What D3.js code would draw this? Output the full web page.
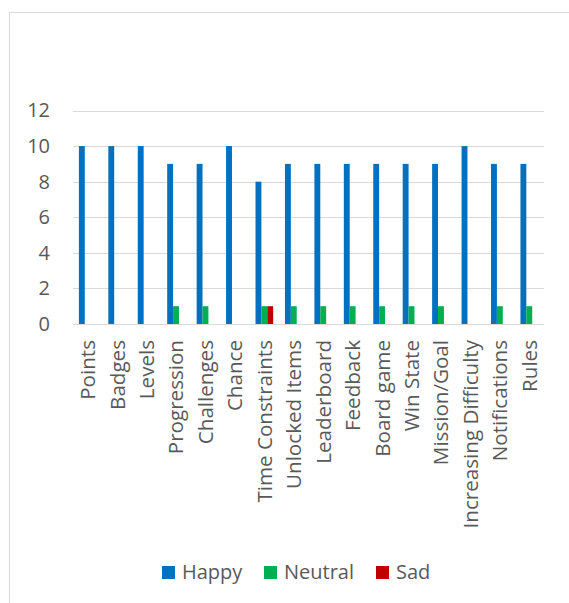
<!DOCTYPE html>
<html><head><meta charset="utf-8">
<script src="https://cdn.jsdelivr.net/npm/d3@7"></script>
<style>body{margin:0;background:#fff;}svg{display:block;}</style>
</head><body>
<svg id="chart" width="569" height="603"></svg>
<script>
const categories = ["Points","Badges","Levels","Progression","Challenges","Chance","Time Constraints","Unlocked Items","Leaderboard","Feedback","Board game","Win State","Mission/Goal","Increasing Difficulty","Notifications","Rules"];
const seriesNames = ["Happy","Neutral","Sad"];
const happy   = [10,10,10,9,9,10,8,9,9,9,9,9,9,10,9,9];
const neutral = [0,0,0,1,1,0,1,1,1,1,1,1,1,0,1,1];
const sad     = [0,0,0,0,0,0,1,0,0,0,0,0,0,0,0,0];
const yTicks  = [0,2,4,6,8,10,12];
const colors  = ["#0070C0","#00B050","#C00000"];

(function(){
const svg = d3.select("#chart");
const font = "'Open Sans', sans-serif";
const txt = "#595959";

// chart area border
svg.append("rect").attr("x",9.5).attr("y",12.5).attr("width",600).attr("height",620)
  .attr("fill","#fff").attr("stroke","#d9d9d9").attr("stroke-width",1);

const pLeft = 73, pRight = 544, pTop = 110.5, pBottom = 324;
const x = d3.scaleBand().domain(categories).range([pLeft,pRight]).padding(0);
const y = d3.scaleLinear().domain([0,12]).range([pBottom,pTop]);

// gridlines
svg.append("g").selectAll("line").data(yTicks.filter(d=>d>0)).join("line")
  .attr("x1",pLeft).attr("x2",pRight).attr("y1",d=>Math.round(y(d))+0.5).attr("y2",d=>Math.round(y(d))+0.5)
  .attr("stroke","#d9d9d9").attr("stroke-width",1.2);

// y axis labels
const yAxis = d3.axisLeft(y).tickValues(yTicks).tickSize(0).tickPadding(0);
const gy = svg.append("g").attr("transform",`translate(50,0)`).call(yAxis);
gy.select(".domain").remove();
gy.selectAll("text").attr("font-family",font).attr("font-size",20).attr("fill",txt);

// bars
const data = [happy,neutral,sad];
const bw = x.bandwidth()/5;
data.forEach((vals,si)=>{
  svg.append("g").selectAll("rect").data(vals.map((v,i)=>({c:categories[i],v})).filter(d=>d.v>0)).join("rect")
    .attr("x",d=>x(d.c)+bw*(1+si))
    .attr("y",d=>y(d.v))
    .attr("width",bw)
    .attr("height",d=>y(0)-y(d.v))
    .attr("fill",colors[si]);
});

// x axis line
svg.append("line").attr("x1",pLeft).attr("x2",pRight).attr("y1",Math.round(pBottom)+0.5).attr("y2",Math.round(pBottom)+0.5)
  .attr("stroke","#d9d9d9").attr("stroke-width",1.2);

// x labels rotated
const xAxis = d3.axisBottom(x).tickSize(0).tickPadding(0);
const gx = svg.append("g").attr("transform",`translate(0,${pBottom})`).call(xAxis);
gx.select(".domain").remove();
gx.selectAll("text")
  .attr("font-family",font).attr("font-size",20.6).attr("fill",txt)
  .attr("text-anchor","end")
  .attr("transform","rotate(-90)")
  .attr("x",-16).attr("y",0).attr("dy","0.36em");

// legend
const legX = [162,264,376];
const lg = svg.append("g");
seriesNames.forEach((n,i)=>{
  lg.append("rect").attr("x",legX[i]).attr("y",566).attr("width",13).attr("height",13).attr("fill",colors[i]);
  lg.append("text").attr("x",legX[i]+20).attr("y",578.5).text(n)
    .attr("font-family",font).attr("font-size",20).attr("fill",txt);
});
})();
</script>
</body></html>
